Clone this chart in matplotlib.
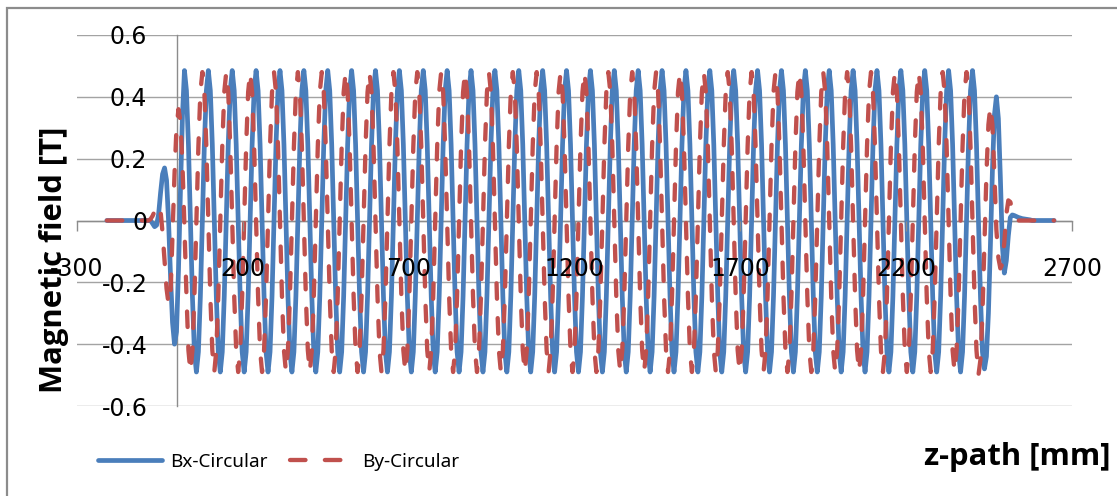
import numpy as np
import matplotlib
matplotlib.use("Agg")
import matplotlib.pyplot as plt
from matplotlib.patches import Rectangle

plt.rcParams['axes.unicode_minus'] = False

# z-path sampling of the field map (mm)
z_start = -210
z_step = 6

# Bx-Circular: entry end, z = -210 ... 18
bx_entry = [0.0] * 23 + [
    -0.01, -0.02, -0.015, 0.02, 0.09, 0.15, 0.17, 0.13,
    0.0, -0.18, -0.33, -0.40, -0.36, -0.16, 0.10, 0.34,
]
# one 72 mm period from the flat part, starting at a crest (z = 24)
bx_period = [0.485, 0.42, 0.245, 0.0, -0.245, -0.425,
             -0.49, -0.425, -0.245, 0.0, 0.245, 0.42]
bx_periods = 33
# exit end, z = 2400 ... 2646
bx_exit = [0.485, 0.42, 0.245, 0.0, -0.245, -0.425,
           -0.48, -0.44, -0.30, -0.08, 0.16, 0.34, 0.40, 0.33, 0.14, -0.08,
           -0.17, -0.13, -0.05, 0.01, 0.018, 0.016, 0.013, 0.01, 0.008,
           0.006, 0.005, 0.004, 0.003, 0.002] + [0.0] * 12

# By-Circular: entry end, z = -210 ... 36
by_entry = [0.0] * 21 + [
    0.0, 0.005, 0.015, 0.03, 0.045, 0.05, 0.03, -0.04, -0.13, -0.22,
    -0.27, -0.24, -0.05, 0.15, 0.30, 0.36, 0.32, 0.18, -0.02, -0.24, -0.42,
]
# one period starting at a trough (z = 42)
by_period = [-0.49, -0.42, -0.245, 0.0, 0.24, 0.415,
             0.48, 0.415, 0.24, 0.0, -0.245, -0.42]
by_periods = 33
# exit end, z = 2418 ... 2646
by_exit = [-0.50, -0.45, -0.30, -0.07, 0.15, 0.31, 0.37, 0.31, 0.15, -0.03,
           -0.12, -0.155, -0.14, -0.07, 0.02, 0.065, 0.06, 0.035, 0.015,
           0.005] + [0.0] * 19

x_ticks = [-300, 200, 700, 1200, 1700, 2200, 2700]
y_ticks = [-0.6, -0.4, -0.2, 0, 0.2, 0.4, 0.6]
y_tick_labels = ['-0.6', '-0.4', '-0.2', '0', '0.2', '0.4', '0.6']

bx = bx_entry + bx_period * bx_periods + bx_exit
by = by_entry + by_period * by_periods + by_exit
z = z_start + z_step * np.arange(len(bx))

BLUE = '#4a7ebb'
RED = '#c0504d'
GRID = '#a3a3a3'
AXIS = '#8c8c8c'

W, H = 1117, 496
fig = plt.figure(figsize=(W / 100, H / 100), dpi=100)
fig.patch.set_facecolor('white')

# chart border (cut by the right and bottom edge of the picture)
fig.patches.append(Rectangle((7 / W, -0.1), 1.2, 1.1 - 8 / H, transform=fig.transFigure,
                             fill=False, edgecolor=AXIS, linewidth=1.6))

ax = fig.add_axes([77 / W, 1 - 406 / H, (1072 - 77) / W, (406 - 35) / H])
ax.set_xlim(-300, 2700)
ax.set_ylim(-0.6, 0.6)
ax.patch.set_alpha(0)

for yv in y_ticks:
    ax.axhline(yv, color=GRID, linewidth=1.0, zorder=0.5)

ax.plot(z, bx, color=BLUE, linewidth=3.4, solid_joinstyle='round',
        solid_capstyle='round', label='Bx-Circular', zorder=2)
ax.plot(z, by, color=RED, linewidth=3.1, linestyle=(0, (3.6, 4.5)),
        dash_capstyle='round', dash_joinstyle='round', label='By-Circular', zorder=2.1)

for side in ['top', 'right']:
    ax.spines[side].set_visible(False)
ax.spines['left'].set_position(('data', 0))
ax.spines['bottom'].set_position(('data', 0))
for side in ['left', 'bottom']:
    ax.spines[side].set_color(AXIS)
    ax.spines[side].set_linewidth(1.0)
    ax.spines[side].set_zorder(1)

ax.set_xticks(x_ticks)
ax.set_xticklabels([str(v) for v in x_ticks])
ax.set_yticks(y_ticks)
ax.set_yticklabels(y_tick_labels)
ax.tick_params(axis='x', direction='out', length=7, width=1.0, color=AXIS, pad=19)
ax.tick_params(axis='y', length=0, pad=21)
for lab in ax.get_xticklabels() + ax.get_yticklabels():
    lab.set_fontfamily('DejaVu Sans')
    lab.set_fontsize(17)
    lab.set_color('black')
ax.xaxis.set_zorder(3)
ax.yaxis.set_zorder(3)

fig.text(54 / W, 1 - 260 / H, 'Magnetic field [T]', rotation=90, ha='center', va='center',
         fontsize=22.3, fontweight='bold', family=['Open Sans', 'DejaVu Sans'])
fig.text(1110 / W, 1 - 457 / H, 'z-path [mm]', ha='right', va='center',
         fontsize=22.3, fontweight='bold', family=['Open Sans', 'DejaVu Sans'])

fig.legend(loc='center left', bbox_to_anchor=(98 / W, 1 - 462 / H), ncol=2, frameon=False,
           prop={'family': 'Noto Sans', 'size': 13.6}, handlelength=3.4, handletextpad=0.4,
           columnspacing=1.2, borderpad=0, borderaxespad=0)

fig.savefig('out.png', dpi=100)
